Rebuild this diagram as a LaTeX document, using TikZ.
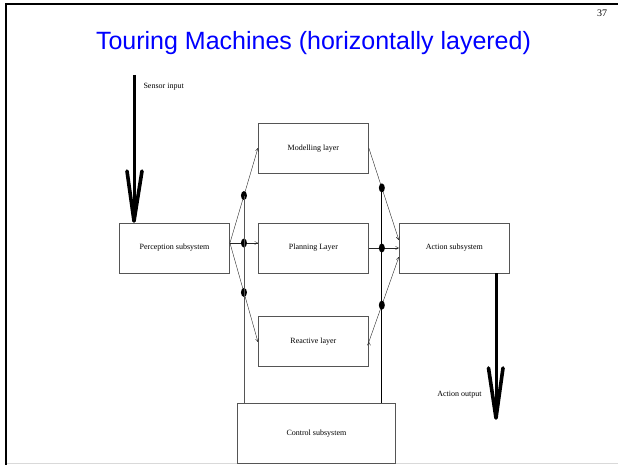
\documentclass[tikz,border=0pt]{standalone}
\usepackage{fontspec}
\setmainfont{Liberation Serif}
\newfontfamily\titlefont{Liberation Sans}
\usetikzlibrary{positioning,calc,arrows.meta,shapes.geometric}
\definecolor{slideblue}{RGB}{0,0,255}
\definecolor{boxgray}{RGB}{85,85,85}

\begin{document}
\begin{tikzpicture}[x=1pt,y=1pt,->,>={To[length=3.5pt,width=3.5pt]},
            thin,node distance=28pt,
            layer node/.style={draw=boxgray,line width=0.9pt,minimum width=110pt,
              minimum height=50pt,inner sep=0pt,font=\fontsize{8}{9}\selectfont},
            junction/.style={shape=ellipse,fill=black,minimum width=6pt,
              minimum height=9pt,inner sep=0pt},
            bigline/.style={-,line width=3pt},
            barbs/.style={-,line width=3.6pt,line join=round,line cap=round}]

        % Slide frame
        \useasboundingbox (0,0) rectangle (618,-465);
        \draw[-,line width=2pt] (5,-4) -- (618,-4);
        \draw[-,line width=2pt] (6,-4) -- (6,-465);
        \draw[-,draw=black!15,line width=1.5pt] (7,-463.5) -- (618,-463.5);
        \node[font=\titlefont\fontsize{25}{30}\selectfont,text=slideblue,anchor=base]
            (title) at (313.5,-50) {Touring Machines (horizontally layered)};
        \node[font=\fontsize{10}{11}\selectfont,anchor=base] (pagenum) at (602,-17) {37};

        % Define vertices
        \node[layer node] (perc) at (174.5,-248) {Perception subsystem};
        \node[layer node] (plan) [right=28pt of perc] {Planning Layer};
        \node[layer node] (model) [above=49pt of plan] {Modelling layer};
        \node[layer node] (react) [below=43pt of plan] {Reactive layer};
        \node[layer node] (act) [right=30pt of plan] {Action subsystem};
        \node[layer node,minimum width=158pt,minimum height=60pt] (ctrl)
            [below=36pt of react,xshift=3pt] {Control subsystem};

        \coordinate (pout) at ([yshift=5pt]perc.east);
        \coordinate (pin) at ([yshift=5pt]plan.west);
        \coordinate (ain) at ([yshift=8pt]act.west);
        \coordinate (ain2) at ([yshift=-9pt]act.west);

        % Draw edges
        \path[draw=black!85]
            (pout) edge (model.west)
            (pout) edge (pin)
            (pout) edge (react.west)
            (model.east) edge (ain)
            (plan.east) edge (act.west)
            (react.east) edge (ain2);

        % Junctions and control lines
        \node[junction] (jl1) at ($(pout)!0.5!(model.west)$) {};
        \node[junction] (jl2) at ($(pout)!0.5!(pin)$) {};
        \node[junction] (jl3) at ($(pout)!0.5!(react.west)$) {};
        \node[junction] (jr1) at ($(model.east)!0.433!(ain)$) {};
        \node[junction] (jr2) at ($(plan.east)!0.433!(act.west)$) {};
        \node[junction] (jr3) at ($(react.east)!0.433!(ain2)$) {};
        \draw[-,draw=boxgray] (jl1.center) -- (jl1.center |- ctrl.north);
        \draw[-,line width=1.2pt] (jr1.center) -- (jr1.center |- ctrl.north);

        % Input and output
        \coordinate (sensor) at (134,-75);
        \coordinate (sensin) at ([yshift=1.5pt]sensor |- perc.north);
        \draw[bigline] (sensor) -- (sensin);
        \draw[barbs] ([shift={(-7pt,50pt)}]sensin) -- (sensin) -- ([shift={(8pt,50pt)}]sensin);
        \node[anchor=west,font=\fontsize{8}{9}\selectfont] (sensorlbl) at (140,-87) {Sensor input};
        \coordinate (actout) at (496,-418);
        \draw[bigline] (actout |- act.south) -- (actout);
        \draw[barbs] ([shift={(-7.5pt,50pt)}]actout) -- (actout) -- ([shift={(7pt,50pt)}]actout);
        \node[anchor=east,font=\fontsize{8}{9}\selectfont] (outlbl) at (485,-395) {Action output};

        \end{tikzpicture}
\end{document}
